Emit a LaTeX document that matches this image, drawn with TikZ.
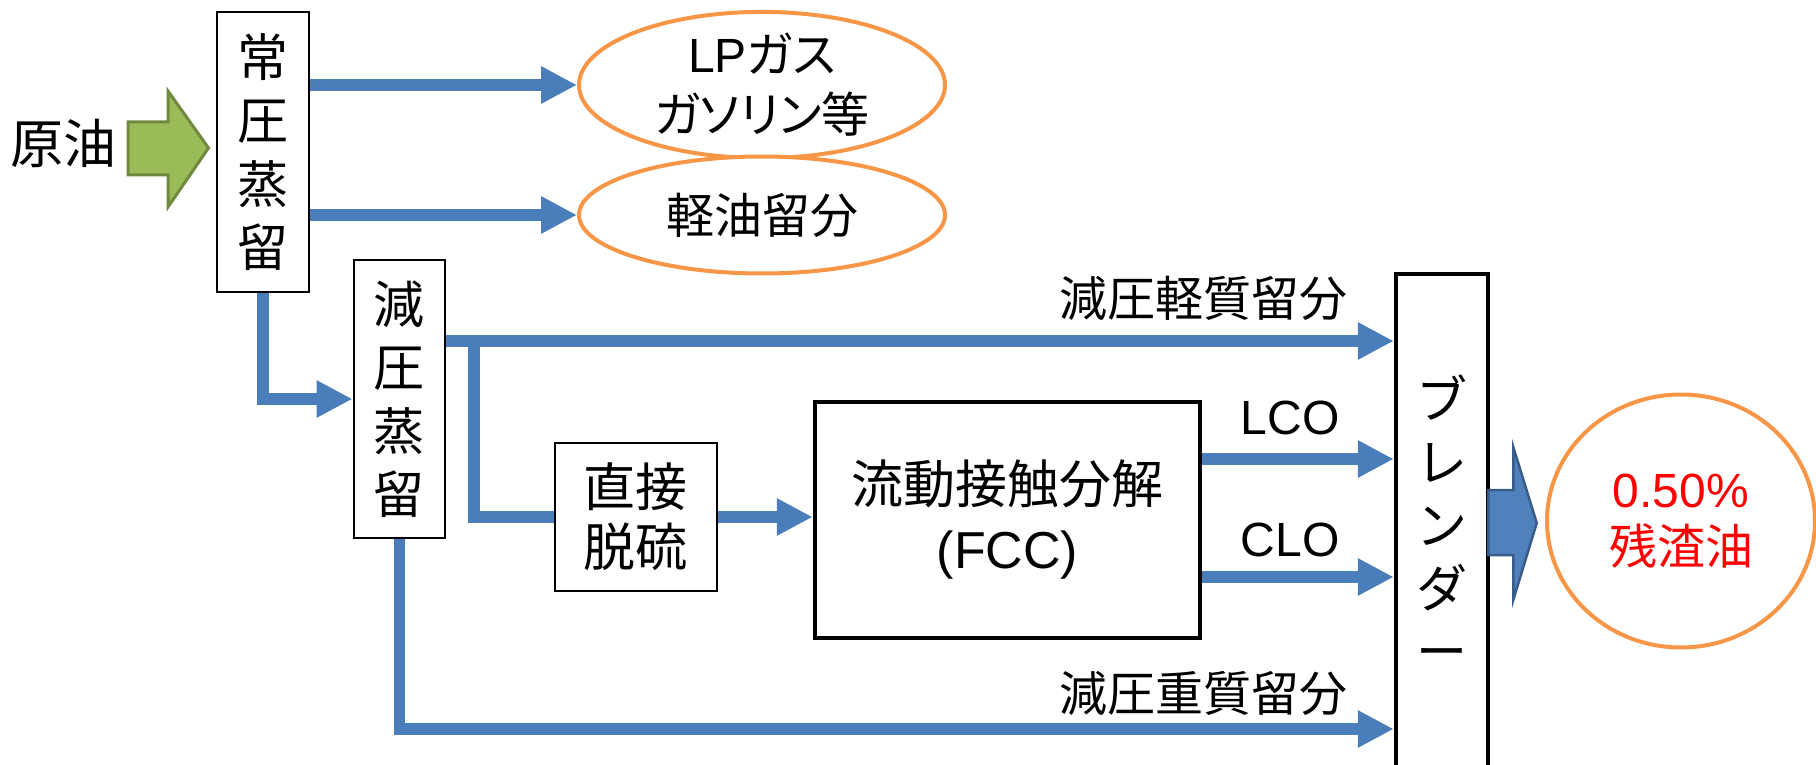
\documentclass[tikz,border=0pt]{standalone}
\usepackage{fontspec}
\setmainfont{Noto Sans CJK JP}
\newfontfamily\jpp[RawFeature=+palt]{Noto Sans CJK JP}
\newfontfamily\lat{Liberation Sans}
\usetikzlibrary{arrows.meta,shapes.geometric}
\definecolor{flowblue}{HTML}{4A7EBB}
\definecolor{ovorange}{HTML}{F79646}
\definecolor{grfill}{HTML}{9BBB59}
\definecolor{grline}{HTML}{71893F}
\definecolor{bgfill}{HTML}{4F81BD}
\definecolor{bgline}{HTML}{385D8A}
\definecolor{resred}{HTML}{FF0000}
\begin{document}
\begin{tikzpicture}[x=1pt,y=-1pt,
  pipe/.style={draw=flowblue,line width=11.5pt,line join=miter},
  flow/.style={pipe,-{Triangle[length=36pt,width=35pt]}},
  txt/.style={inner sep=0pt,align=center,font=\fontsize{51}{63.5}\selectfont},
  thinbox/.style={txt,draw=black,line width=2pt,fill=white},
  thickbox/.style={txt,draw=black,line width=4.5pt,fill=white},
  oval/.style={txt,ellipse,draw=ovorange,line width=4pt,fill=white},
  lbl/.style={txt,font=\fontsize{48}{60}\selectfont}
]
\useasboundingbox (0,0) rectangle (1816,765);
% boxes
\node[thinbox,minimum width=91.5pt,minimum height=279pt] (jo) at (262.75,152) {常\\圧\\蒸\\留};
\node[thinbox,minimum width=91.5pt,minimum height=278pt] (gen) at (399.25,399) {減\\圧\\蒸\\留};
\node[thinbox,minimum width=161.5pt,minimum height=148pt,font=\fontsize{52}{60}\selectfont] (ds) at (635.75,517) {直接\\脱硫};
\node[thickbox,minimum width=385pt,minimum height=236pt,font=\fontsize{52}{65}\selectfont] (fcc) at (1007.5,520) {流動接触分解\\{\lat (FCC)}};
\node[thickbox,minimum width=92pt,minimum height=498pt,font=\fontsize{51}{63}\selectfont] (blend) at (1442,523) {ブ\\レ\\ン\\ダ\\ー};
% ovals
\node[oval,minimum width=366pt,minimum height=117pt,font=\fontsize{48}{60}\selectfont] (lp) at (762,85) {{\lat LP}{\jpp ガス}\\{\jpp ガソリン}等};
\node[oval,minimum width=366pt,minimum height=117pt,font=\fontsize{48}{60}\selectfont] (kei) at (762,215) {軽油留分};
\node[oval,minimum width=268pt,minimum height=253pt,text=resred,font=\fontsize{48}{57}\selectfont] (res) at (1681,521) {{\lat 0.50\%}\\残渣油};
% labels
\node[txt,font=\fontsize{53}{60}\selectfont] (crude) at (63,143) {原油};
\node[lbl] (llight) at (1203.5,298) {減圧軽質留分};
\node[lbl] (lheavy) at (1203.5,693) {減圧重質留分};
\node[lbl] (llco) at (1290,418) {\lat LCO};
\node[lbl] (lclo) at (1290,540) {\lat CLO};
% level coordinates
\coordinate (ylight) at (0,341);
\coordinate (ylco) at (0,459);
\coordinate (yclo) at (0,577);
\coordinate (yheavy) at (0,729);
\coordinate (br) at (474,341);
% crude arrow
\draw[fill=grfill,draw=grline,line width=3pt,line join=miter]
  (128,122) -- (168,122) -- (168,91) -- (208.5,148) -- (168,207) -- (168,175) -- (128,175) -- cycle;
% flows
\draw[flow] (jo.east |- lp.west) -- (lp.west);
\draw[flow] (jo.east |- kei.west) -- (kei.west);
\draw[flow] (jo.south) |- (gen.west);
\draw[flow] (gen.east |- ylight) -- (blend.west |- ylight);
\draw[pipe] (br) |- (ds.west);
\draw[flow] (ds.east) -- (fcc.west |- ds.east);
\draw[flow] (fcc.east |- ylco) -- (blend.west |- ylco);
\draw[flow] (fcc.east |- yclo) -- (blend.west |- yclo);
\draw[flow] (gen.south) |- (blend.west |- yheavy);
% big output arrow
\draw[fill=bgfill,draw=bgline,line width=2.5pt,line join=miter]
  ([shift={(-2,-33)}]blend.east) -- ([shift={(23,-33)}]blend.east) -- ([shift={(23,-76)}]blend.east)
  -- ([shift={(46.5,0)}]blend.east) -- ([shift={(23,77)}]blend.east) -- ([shift={(23,32)}]blend.east)
  -- ([shift={(-2,32)}]blend.east) -- cycle;
\end{tikzpicture}
\end{document}
